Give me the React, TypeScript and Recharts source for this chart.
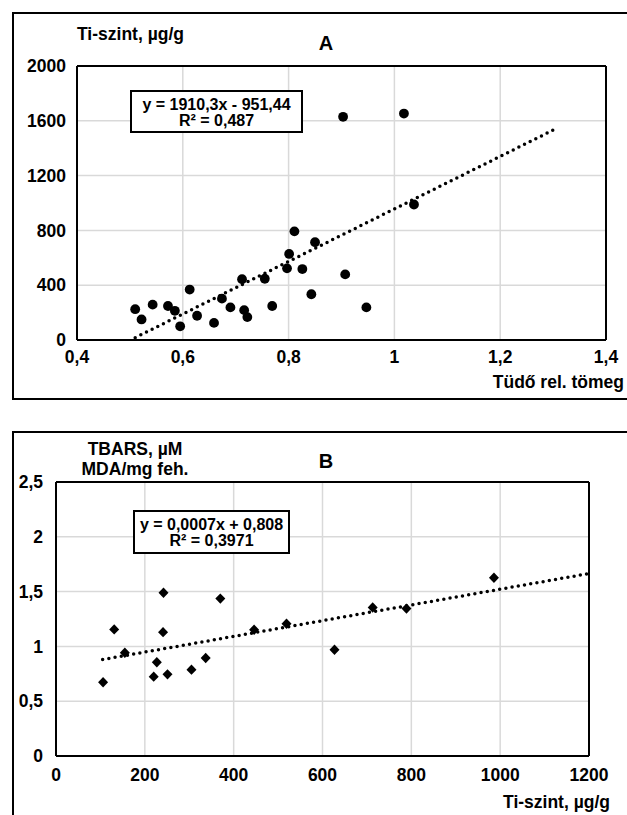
import React from 'react'
import { ScatterChart, Scatter, XAxis, YAxis, CartesianGrid, ReferenceLine } from 'recharts'

// A: lung relative weight vs Ti level
const lungWeight = [0.51, 0.522, 0.543, 0.572, 0.585, 0.595, 0.613, 0.627, 0.659, 0.674, 0.69, 0.712, 0.716, 0.722, 0.755, 0.769, 0.797, 0.801, 0.811, 0.826, 0.843, 0.85, 0.903, 0.907, 0.947, 1.018, 1.037]
const tiLevelA = [225, 150, 258, 248, 213, 100, 368, 177, 125, 302, 238, 444, 218, 167, 447, 248, 523, 628, 793, 518, 334, 714, 1629, 479, 238, 1653, 989]
const trendAX = [0.51, 1.3]
const trendAY = [17, 1532]
const xTicksA = [0.4, 0.6, 0.8, 1, 1.2, 1.4]
const yTicksA = [0, 400, 800, 1200, 1600, 2000]

// B: Ti level vs TBARS
const tiLevelB = [106, 131, 155, 220, 227, 241, 242, 251, 305, 337, 370, 446, 519, 627, 713, 789, 986]
const tbars = [0.673, 1.155, 0.942, 0.724, 0.855, 1.13, 1.49, 0.745, 0.788, 0.894, 1.436, 1.152, 1.206, 0.97, 1.355, 1.345, 1.627]
const trendBX = [105, 1200]
const trendBY = [0.88, 1.665]
const xTicksB = [0, 200, 400, 600, 800, 1000, 1200]
const yTicksB = [0, 0.5, 1, 1.5, 2, 2.5]

const FONT = '"Liberation Sans", Arial, sans-serif'
const comma = (v: number) => String(v).replace('.', ',')
const tickStyle = { fill: '#000', fontSize: 17.5, fontWeight: 700, fontFamily: FONT }

const pointsA = lungWeight.map((x, i) => ({ x, y: tiLevelA[i] }))
const trendA = trendAX.map((x, i) => ({ x, y: trendAY[i] }))
const pointsB = tiLevelB.map((x, i) => ({ x, y: tbars[i] }))
const trendB = trendBX.map((x, i) => ({ x, y: trendBY[i] }))

const Dot = (p: any) => <circle cx={p.cx} cy={p.cy} r={4.9} fill="#000" />
const Diamond = (p: any) => (
  <polygon
    points={`${p.cx},${p.cy - 5.2} ${p.cx + 5},${p.cy} ${p.cx},${p.cy + 5.2} ${p.cx - 5},${p.cy}`}
    fill="#000"
  />
)
const NoShape = () => <g />

const trendLine = { stroke: '#000', strokeWidth: 3.5, strokeDasharray: '0 6.3', strokeLinecap: 'round' as const }

const abs = (left: number, top: number, extra: React.CSSProperties = {}): React.CSSProperties => ({
  position: 'absolute',
  left,
  top,
  fontFamily: FONT,
  fontWeight: 700,
  color: '#000',
  lineHeight: 1,
  whiteSpace: 'nowrap',
  ...extra,
})

const eqBox = (left: number, top: number, width: number, height: number): React.CSSProperties => ({
  position: 'absolute',
  left,
  top,
  width,
  height,
  boxSizing: 'border-box',
  border: '2.5px solid #000',
  background: '#fff',
  display: 'flex',
  flexDirection: 'column',
  alignItems: 'center',
  justifyContent: 'center',
  fontFamily: FONT,
  fontWeight: 700,
  fontSize: 16,
  lineHeight: '16px',
  paddingTop: 2,
})

export default function App() {
  return (
    <div style={{ position: 'absolute', left: 0, top: 0, width: 627, height: 815, overflow: 'hidden', background: '#fff' }}>
      {/* frames */}
      <div style={{ position: 'absolute', left: 12, top: 12, width: 700, height: 388, boxSizing: 'border-box', border: '2px solid #000' }} />
      <div style={{ position: 'absolute', left: 12, top: 431, width: 700, height: 500, boxSizing: 'border-box', border: '2px solid #000' }} />

      {/* chart A */}
      <div style={{ position: 'absolute', left: 0, top: 0 }}>
        <ScatterChart width={627} height={400} margin={{ top: 66, right: 21, bottom: 0, left: 0 }}>
          <CartesianGrid stroke="#d9d9d9" strokeWidth={1.5} />
          <XAxis
            type="number"
            dataKey="x"
            domain={[0.4, 1.4]}
            ticks={xTicksA}
            tickFormatter={comma}
            height={60}
            tickLine={false}
            tickSize={0}
            tickMargin={11}
            axisLine={{ stroke: '#000', strokeWidth: 2 }}
            tick={tickStyle}
            allowDataOverflow
          />
          <YAxis
            type="number"
            dataKey="y"
            domain={[0, 2000]}
            ticks={yTicksA}
            width={77}
            tickLine={false}
            tickSize={0}
            tickMargin={11}
            axisLine={{ stroke: '#000', strokeWidth: 2 }}
            tick={tickStyle}
            allowDataOverflow
          />
          <ReferenceLine y={2000} stroke="#000" strokeWidth={2} />
          <ReferenceLine x={1.4} stroke="#000" strokeWidth={2} />
          <Scatter data={trendA} line={trendLine} shape={NoShape} isAnimationActive={false} />
          <Scatter data={pointsA} shape={Dot} isAnimationActive={false} />
        </ScatterChart>
      </div>
      <div style={abs(77, 35, { fontSize: 17.5, transform: 'translateY(-50%)' })}>Ti-szint, µg/g</div>
      <div style={abs(326, 43, { fontSize: 20, transform: 'translate(-50%,-50%)' })}>A</div>
      <div style={abs(624, 383, { fontSize: 17.5, transform: 'translate(-100%,-50%)' })}>Tüdő rel. tömeg</div>
      <div style={eqBox(130, 90, 173, 43)}>
        <div>y = 1910,3x - 951,44</div>
        <div>R² = 0,487</div>
      </div>

      {/* chart B */}
      <div style={{ position: 'absolute', left: 0, top: 415 }}>
        <ScatterChart width={627} height={400} margin={{ top: 67, right: 38, bottom: 0, left: 0 }}>
          <CartesianGrid stroke="#d9d9d9" strokeWidth={1.5} />
          <XAxis
            type="number"
            dataKey="x"
            domain={[0, 1200]}
            ticks={xTicksB}
            height={59}
            tickLine={false}
            tickSize={0}
            tickMargin={13}
            axisLine={{ stroke: '#000', strokeWidth: 2 }}
            tick={tickStyle}
            allowDataOverflow
          />
          <YAxis
            type="number"
            dataKey="y"
            domain={[0, 2.5]}
            ticks={yTicksB}
            tickFormatter={comma}
            width={56}
            tickLine={false}
            tickSize={0}
            tickMargin={13}
            axisLine={{ stroke: '#000', strokeWidth: 2 }}
            tick={tickStyle}
            allowDataOverflow
          />
          <ReferenceLine y={2.5} stroke="#000" strokeWidth={2} />
          <ReferenceLine x={1200} stroke="#000" strokeWidth={2} />
          <Scatter data={trendB} line={trendLine} shape={NoShape} isAnimationActive={false} />
          <Scatter data={pointsB} shape={Diamond} isAnimationActive={false} />
        </ScatterChart>
      </div>
      <div style={abs(135, 450, { fontSize: 17.5, transform: 'translate(-50%,-50%)' })}>TBARS, µM</div>
      <div style={abs(135, 470, { fontSize: 17.5, transform: 'translate(-50%,-50%)' })}>MDA/mg feh.</div>
      <div style={abs(326, 461, { fontSize: 20, transform: 'translate(-50%,-50%)' })}>B</div>
      <div style={abs(610, 803, { fontSize: 17.5, transform: 'translate(-100%,-50%)' })}>Ti-szint, µg/g</div>
      <div style={eqBox(133, 510, 157, 44)}>
        <div>y = 0,0007x + 0,808</div>
        <div>R² = 0,3971</div>
      </div>
    </div>
  )
}
